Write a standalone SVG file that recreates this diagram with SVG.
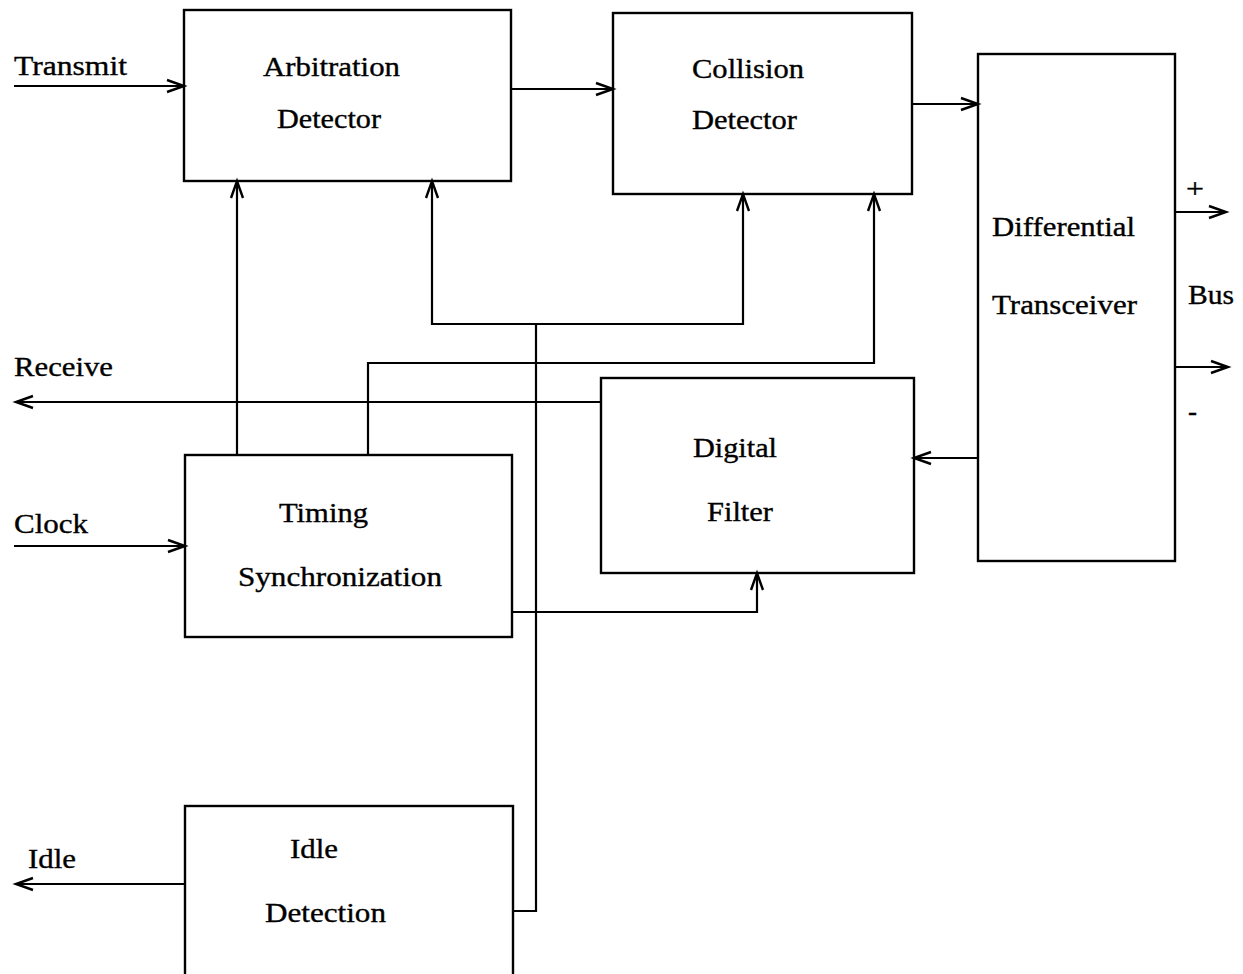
<svg xmlns="http://www.w3.org/2000/svg" width="1243" height="974" viewBox="0 0 1243 974">
<style>
.box{fill:none;stroke:#000;stroke-width:2.4}
.wire{fill:none;stroke:#000;stroke-width:2.2}
.arr{marker-end:url(#ah)}
text{font-family:"Liberation Serif","Times New Roman",serif;font-size:27px;fill:#000;stroke:#000;stroke-width:0.35}
</style>
<defs>
<marker id="ah" markerUnits="userSpaceOnUse" markerWidth="22" markerHeight="16" refX="18" refY="8" orient="auto">
<path d="M1,2 L18,8 L1,14" fill="none" stroke="#000" stroke-width="2.4"/>
</marker>
</defs>
<rect width="1243" height="974" fill="#fff"/>
<g id="connectors">
<path class="wire arr" d="M14,86 H184"/>
<path class="wire arr" d="M511,89 H613"/>
<path class="wire arr" d="M912,104 H978"/>
<path class="wire arr" d="M1175,212 H1226"/>
<path class="wire arr" d="M1175,367 H1228"/>
<path class="wire arr" d="M978,458 H914"/>
<path class="wire arr" d="M601,402 H16"/>
<path class="wire arr" d="M14,546 H185"/>
<path class="wire arr" d="M237,455 V181"/>
<path class="wire arr" d="M368,455 V363 H874 V194"/>
<path class="wire arr" d="M513,911 H536 V324 H432 V181"/>
<path class="wire arr" d="M536,324 H743 V194"/>
<path class="wire arr" d="M512,612 H757 V573"/>
<path class="wire arr" d="M185,884 H16"/>
</g>
<g id="labels">
<text x="14" y="75" textLength="113" lengthAdjust="spacingAndGlyphs">Transmit</text>
<text x="14" y="376" textLength="99" lengthAdjust="spacingAndGlyphs">Receive</text>
<text x="14" y="533" textLength="74" lengthAdjust="spacingAndGlyphs">Clock</text>
<text x="28" y="868" textLength="48" lengthAdjust="spacingAndGlyphs">Idle</text>
<text x="1186" y="198" textLength="18" lengthAdjust="spacingAndGlyphs">+</text>
<text x="1188" y="304" textLength="46" lengthAdjust="spacingAndGlyphs">Bus</text>
<text x="1188" y="420" textLength="9" lengthAdjust="spacingAndGlyphs">-</text>
</g>
<g id="arbitration">
<rect class="box" x="184" y="10" width="327" height="171"/>
<text x="263" y="76" textLength="137" lengthAdjust="spacingAndGlyphs">Arbitration</text>
<text x="277" y="128" textLength="104" lengthAdjust="spacingAndGlyphs">Detector</text>
</g>
<g id="collision">
<rect class="box" x="613" y="13" width="299" height="181"/>
<text x="692" y="78" textLength="112" lengthAdjust="spacingAndGlyphs">Collision</text>
<text x="692" y="129" textLength="105" lengthAdjust="spacingAndGlyphs">Detector</text>
</g>
<g id="transceiver">
<rect class="box" x="978" y="54" width="197" height="507"/>
<text x="992" y="236" textLength="143" lengthAdjust="spacingAndGlyphs">Differential</text>
<text x="992" y="314" textLength="145" lengthAdjust="spacingAndGlyphs">Transceiver</text>
</g>
<g id="filter">
<rect class="box" x="601" y="378" width="313" height="195"/>
<text x="693" y="457" textLength="84" lengthAdjust="spacingAndGlyphs">Digital</text>
<text x="707" y="521" textLength="66" lengthAdjust="spacingAndGlyphs">Filter</text>
</g>
<g id="timing">
<rect class="box" x="185" y="455" width="327" height="182"/>
<text x="279" y="522" textLength="89" lengthAdjust="spacingAndGlyphs">Timing</text>
<text x="238" y="586" textLength="204" lengthAdjust="spacingAndGlyphs">Synchronization</text>
</g>
<g id="idle">
<rect class="box" x="185" y="806" width="328" height="200"/>
<text x="290" y="858" textLength="48" lengthAdjust="spacingAndGlyphs">Idle</text>
<text x="265" y="922" textLength="121" lengthAdjust="spacingAndGlyphs">Detection</text>
</g>
</svg>
